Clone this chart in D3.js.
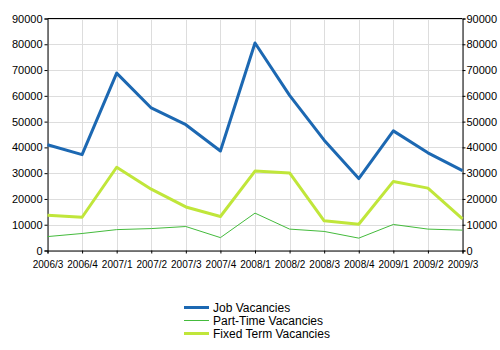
<!DOCTYPE html>
<html><head><meta charset="utf-8">
<script src="https://cdn.jsdelivr.net/npm/d3@7"></script>
<style>body{margin:0;background:#fff}svg{display:block;font-family:"Liberation Sans",Arial,sans-serif}</style>
</head><body><svg id="c" width="500" height="350"></svg>
<script>
const categories = ["2006/3","2006/4","2007/1","2007/2","2007/3","2007/4","2008/1","2008/2","2008/3","2008/4","2009/1","2009/2","2009/3"];
const jobVacancies = [41000,37200,68800,55300,48800,38600,80500,60200,42800,27900,46400,37900,31000];
const partTimeVacancies = [5400,6600,8100,8500,9300,5000,14500,8300,7400,4800,10100,8300,7900];
const fixedTermVacancies = [13700,12900,32300,23800,16900,13200,30800,30100,11500,10200,26800,24200,12300];
const yTicks = [0,10000,20000,30000,40000,50000,60000,70000,80000,90000];
const seriesNames = ["Job Vacancies","Part-Time Vacancies","Fixed Term Vacancies"];

const series = [
  {name: seriesNames[0], values: jobVacancies, color: "#1c68b2", width: 3},
  {name: seriesNames[1], values: partTimeVacancies, color: "#44bb3c", width: 1},
  {name: seriesNames[2], values: fixedTermVacancies, color: "#c0e63a", width: 3}
];

const svg = d3.select("#c");
const L = 47.5, R = 462.5, T = 18.5, B = 250.5;
const x = d3.scalePoint().domain(categories).range([L, R]);
const y = d3.scaleLinear().domain([0, 90000]).range([B, T]);

// grid
svg.append("g").selectAll("line.h").data(yTicks).join("line")
  .attr("x1", L).attr("x2", R).attr("y1", d => Math.round(y(d)) + 0.5).attr("y2", d => Math.round(y(d)) + 0.5)
  .attr("stroke", "#dddddd").attr("stroke-width", 1);
svg.append("g").selectAll("line.v").data(categories).join("line")
  .attr("x1", d => Math.round(x(d)) + 0.5).attr("x2", d => Math.round(x(d)) + 0.5).attr("y1", T).attr("y2", B)
  .attr("stroke", "#dddddd").attr("stroke-width", 1);

// frame top
svg.append("line").attr("x1", L).attr("x2", R).attr("y1", T).attr("y2", T).attr("stroke", "#000");

// axes
const fmt = d3.format("d");
const yl = svg.append("g").attr("transform", `translate(${L},0)`)
  .call(d3.axisLeft(y).tickValues(yTicks).tickFormat(fmt).tickSize(3).tickPadding(2));
const yr = svg.append("g").attr("transform", `translate(${R},0)`)
  .call(d3.axisRight(y).tickValues(yTicks).tickFormat(fmt).tickSize(3).tickPadding(1));
const xa = svg.append("g").attr("transform", `translate(0,${B})`)
  .call(d3.axisBottom(x).tickSize(3).tickPadding(7));
[yl, yr, xa].forEach(g => {
  g.select(".domain").attr("stroke", "#000");
  g.selectAll(".tick line").attr("stroke", "#000");
  g.selectAll("text").attr("fill", "#000").style("font-family", '"Liberation Sans",Arial,sans-serif');
});
yl.selectAll("text").style("font-size", "11px");
yr.selectAll("text").style("font-size", "11px");
xa.selectAll("text").style("font-size", "10px");

// lines
const line = d3.line().x((d, i) => x(categories[i])).y(d => y(d));
svg.append("g").selectAll("path").data(series).join("path")
  .attr("d", d => line(d.values))
  .attr("fill", "none").attr("stroke", d => d.color).attr("stroke-width", d => d.width)
  .attr("stroke-linejoin", "round");

// legend
const lg = svg.append("g").selectAll("g").data(series).join("g")
  .attr("transform", (d, i) => `translate(184,${307 + i * 13})`);
lg.append("line").attr("x1", 0).attr("x2", 25).attr("y1", 0.5).attr("y2", 0.5)
  .attr("stroke", d => d.color).attr("stroke-width", d => d.width);
lg.append("text").attr("x", 29).attr("y", 5).style("font-size", "12px").attr("fill", "#000").text(d => d.name);
</script></body></html>
